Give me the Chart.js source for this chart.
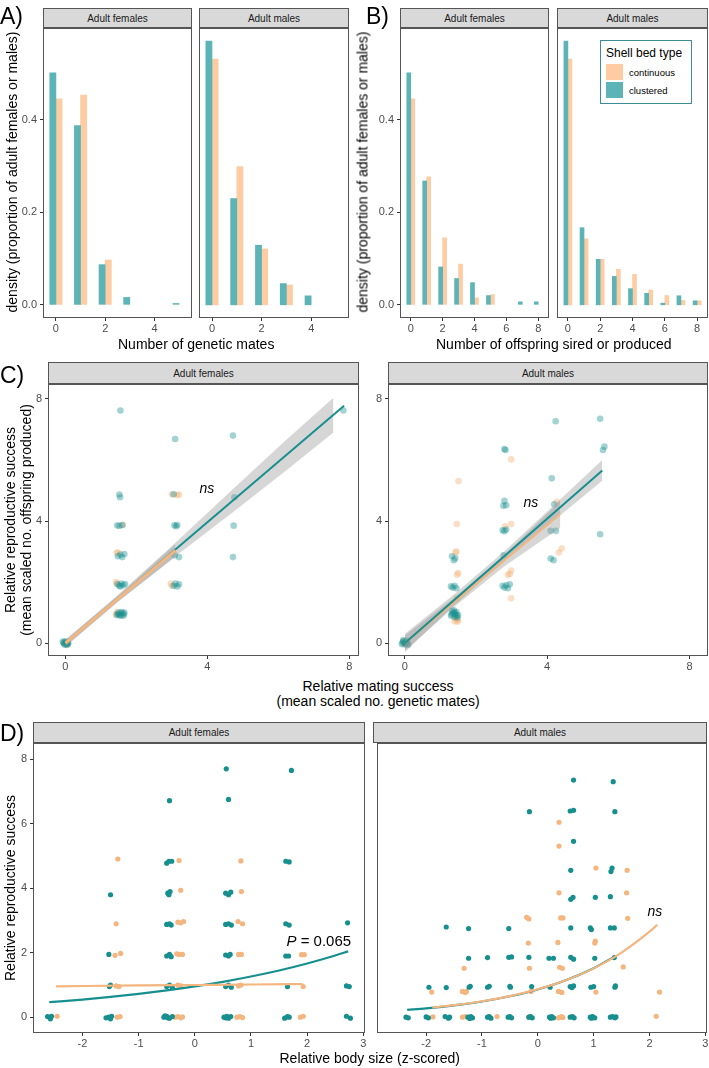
<!DOCTYPE html>
<html><head><meta charset="utf-8">
<script src="https://cdn.jsdelivr.net/npm/chart.js@4/dist/chart.umd.min.js"></script>
<style>
html,body{margin:0;padding:0;background:#fff;overflow:hidden;width:709px;height:1068px;}
#root{position:relative;width:709px;height:1068px;font-family:"Liberation Sans",Arial,sans-serif;overflow:hidden;}
canvas{position:absolute;}
.t{position:absolute;white-space:nowrap;line-height:1;color:#000;}
.strip{position:absolute;box-sizing:border-box;background:#d9d9d9;border:1px solid #555;font-size:10px;color:#1a1a1a;display:flex;align-items:center;justify-content:center;}
</style></head><body><div id="root"></div>
<script>
// ---------------- DATA ----------------
// Panel A: number of genetic mates
const matesCats = [0, 1, 2, 3, 4, 5];
const aFemClustered  = [0.502, 0.388, 0.087, 0.016, 0, 0.003];
const aFemContinuous = [0.446, 0.454, 0.097, 0, 0, 0];
const aMaleClustered  = [0.5705, 0.230, 0.129, 0.046, 0.0195, 0];
const aMaleContinuous = [0.532, 0.299, 0.121, 0.043, 0, 0];
const abYTicks = [0, 0.2, 0.4];
const abYTickLabels = ['0.0', '0.2', '0.4'];
const aXTicks = [0, 2, 4];

// Panel B: number of offspring
const offspringCats = [0, 1, 2, 3, 4, 5, 6, 7, 8];
const bFemClustered  = [0.502, 0.268, 0.082, 0.057, 0.048, 0.020, 0, 0.0065, 0.0065];
const bFemContinuous = [0.446, 0.277, 0.145, 0.088, 0.015, 0.022, 0, 0, 0];
const bMaleClustered  = [0.5705, 0.167, 0.0985, 0.0615, 0.035, 0.025, 0.0036, 0.0196, 0.0087];
const bMaleContinuous = [0.532, 0.143, 0.0985, 0.077, 0.066, 0.032, 0.020, 0.0094, 0.0087];
const bXTicks = [0, 2, 4, 6, 8];

// Panel C: relative mating success vs relative reproductive success (jittered points)
const cTicks = [0, 4, 8];
const cFemClustered = [[-0.05,0.02],[0.03,-0.03],[0.06,0.04],[-0.02,-0.05],[0.08,0.0],[-0.07,0.05],[0.0,0.06],[0.04,-0.06],[-0.04,0.0],[0.07,-0.02],
 [1.45,0.92],[1.5,1.0],[1.55,0.9],[1.6,0.98],[1.65,0.94],[1.48,0.96],[1.58,1.02],[1.62,0.9],[1.52,0.93],[1.66,1.0],
 [1.47,1.93],[1.52,1.88],[1.58,1.95],[1.63,1.9],[1.55,1.86],[1.68,1.94],
 [1.48,2.85],[1.55,2.9],[1.6,2.82],[1.66,2.92],
 [1.46,3.86],[1.52,3.84],[1.6,3.87],
 [1.52,4.87],[1.54,4.78],[1.55,7.62],
 [3.05,1.88],[3.1,1.95],[3.15,1.86],[3.2,1.93],
 [3.08,2.88],[3.2,2.82],
 [3.07,3.86],[3.12,3.83],[3.15,3.87],
 [3.05,4.88],[3.09,6.69],
 [4.72,2.82],[4.74,3.85],[4.76,4.78],[4.72,6.8],
 [7.83,7.62]];
const cFemContinuous = [[0.02,0.03],[-0.03,-0.02],[0.05,-0.04],
 [1.42,0.95],[1.45,1.02],[1.5,0.93],
 [1.45,1.95],[1.43,2.0],[1.45,2.95],[1.48,2.98],[1.62,3.87],
 [2.97,1.95],[3.0,1.88],[3.0,4.88],[3.15,4.85],[3.2,4.87]];
const cMaleClustered = [[-0.06,0.02],[0.0,-0.04],[0.05,0.05],[0.08,-0.02],[-0.03,0.06],[0.03,0.0],[-0.08,-0.03],[0.06,0.08],[0.1,-0.05],[-0.04,0.1],
 [1.3,0.9],[1.35,0.98],[1.4,0.86],[1.45,1.02],[1.5,0.92],[1.33,1.05],[1.42,0.95],[1.48,0.84],[1.38,1.08],[1.46,0.9],[1.32,0.95],[1.4,1.0],
 [1.3,1.86],[1.35,1.82],[1.4,1.88],[1.45,1.8],
 [1.33,2.85],[1.38,2.72],[1.42,2.78],
 [2.75,1.88],[2.8,1.82],[2.85,1.9],[2.9,1.8],[2.95,1.93],
 [2.78,2.88],
 [2.75,3.7],[2.8,3.67],[2.85,3.72],
 [2.8,4.66],[2.77,4.5],[2.85,4.52],
 [2.8,6.36],[2.83,6.33],
 [4.1,2.77],[4.18,2.72],[4.1,3.68],[4.25,3.68],[4.2,4.55],[4.13,5.40],[4.24,7.27],
 [5.49,3.57],[5.57,6.33],[5.61,6.44],[5.49,7.35]];
const cMaleContinuous = [[0.02,-0.02],[-0.04,0.03],[0.06,0.01],
 [1.4,0.72],[1.45,0.78],[1.5,0.75],[1.42,0.82],[1.48,0.7],
 [1.46,1.47],[1.47,2.24],[1.5,2.3],[1.43,2.97],[1.45,3.0],[1.46,3.90],[1.51,5.31],
 [2.99,1.47],[2.9,2.24],[2.95,2.27],[2.99,2.38],
 [2.82,3.83],[2.99,3.9],[2.99,6.02],
 [4.33,2.97],[4.41,3.1],[4.27,4.63]];
// fitted lines and confidence ribbons
const cFemClusteredLine = [[0,0],[7.85,7.78]];
const cFemContinuousLine = [[0,0],[3.1,3.04]];
const cFemClusteredBand = {x:[0,1.5,3.1,4.7,6.2,7.55], hi:[0.1,1.6,3.29,5.03,6.64,8.04], lo:[-0.1,1.38,2.85,4.27,5.64,6.9]};
const cFemContinuousBand = {x:[0,1.5,3.1], hi:[0.12,1.57,3.25], lo:[-0.12,1.37,2.83]};
const cMaleClusteredLine = [[0,0],[5.55,5.66]];
const cMaleContinuousLine = [[0,0],[4.37,4.23]];
const cMaleClusteredBand = {x:[0,1.4,2.8,4.2,5.55], hi:[0.3,1.61,3.01,4.53,6.0], lo:[-0.3,1.25,2.71,4.03,5.32]};
const cMaleContinuousBand = {x:[0,1.4,2.8,4.37], hi:[0.25,1.5,2.9,4.66], lo:[-0.25,1.2,2.52,3.78]};

// Panel D: relative body size vs relative reproductive success
const dXTicks = [-2, -1, 0, 1, 2, 3];
const dYTicks = [0, 2, 4, 6, 8];
const dFemClustered = [[-2.62,0.02],[-2.57,-0.05],[-2.55,0.03],
 [-1.58,-0.02],[-1.53,0.0],[-1.48,0.03],[-1.5,-0.05],[-1.52,0.95],[-1.5,1.0],[-1.53,1.95],[-1.5,3.8],
 [-0.55,0],[-0.5,0.03],[-0.45,-0.03],[-0.4,0.02],[-0.48,-0.02],[-0.53,0.04],
 [-0.5,0.95],[-0.45,1.0],[-0.4,0.93],[-0.5,1.9],[-0.45,1.95],[-0.42,1.88],
 [-0.5,2.88],[-0.45,2.9],[-0.42,2.86],[-0.48,3.85],[-0.44,3.9],[-0.46,3.8],
 [-0.5,4.78],[-0.46,4.84],[-0.41,4.84],[-0.45,6.72],
 [0.52,0],[0.57,0.03],[0.6,-0.03],[0.64,0.02],[0.55,-0.02],
 [0.55,0.95],[0.6,1.0],[0.65,0.93],[0.55,1.93],[0.6,1.9],[0.63,1.95],
 [0.55,2.88],[0.6,2.9],[0.65,2.86],[0.55,3.85],[0.6,3.8],[0.64,3.88],
 [0.6,6.76],[0.56,7.71],
 [1.6,-0.03],[1.65,0.02],[1.68,0],[1.65,0.95],[1.62,1.9],[1.67,1.9],
 [1.62,2.9],[1.68,2.86],[1.62,4.84],[1.68,4.82],[1.72,7.66],
 [2.7,0.03],[2.77,-0.03],[2.7,0.97],[2.75,0.95],[2.72,2.93]];
const dFemContinuous = [[-2.45,0.03],
 [-1.38,0],[-1.33,0.02],[-1.4,0.97],[-1.35,0.95],[-1.42,1.92],[-1.32,1.98],[-1.4,2.9],[-1.37,4.91],
 [-0.35,0],[-0.3,0.02],[-0.25,-0.02],[-0.22,0.01],[-0.3,1.0],[-0.25,0.97],
 [-0.32,1.97],[-0.28,1.95],[-0.22,1.95],[-0.3,2.95],[-0.25,2.93],[-0.2,2.97],
 [-0.25,3.94],[-0.28,4.86],
 [0.75,0],[0.8,0.02],[0.85,-0.01],[0.78,0.97],[0.82,1.0],[0.78,1.95],[0.83,1.95],
 [0.77,2.97],[0.85,2.9],[0.83,3.9],[0.82,4.85],
 [1.88,0],[1.93,0.03],[1.93,0.95],[1.9,1.94],[1.95,1.94]];
const dMaleClustered = [[-2.36,0],[-2.32,-0.02],[-2.0,0.01],[-1.96,-0.02],[-1.66,0.02],[-1.6,-0.03],[-1.58,0],
 [-1.25,0.0],[-1.2,0.02],[-1.17,-0.02],[-1.22,-0.04],[-0.9,0],[-0.87,0.02],[-0.84,-0.03],
 [-0.53,0],[-0.5,0.02],[-0.47,-0.02],[-0.16,0],[-0.13,0.02],[-0.1,-0.02],
 [0.21,0],[0.25,0.02],[0.28,-0.02],[0.23,-0.03],[0.58,0],[0.62,0.02],[0.65,-0.02],
 [0.94,0],[0.98,0.02],[1.02,-0.02],[0.96,-0.03],[1.3,0],[1.34,0.02],[1.38,-0.02],[1.4,0.01],
 [-1.95,0.93],[-1.64,0.92],[-1.23,0.93],[-1.21,0.96],[-0.9,0.93],[-0.87,0.96],[-0.49,0.93],[-0.5,0.96],
 [-0.11,0.95],[0.22,0.93],[0.58,0.95],[0.61,0.92],[0.64,0.97],[0.95,0.93],[1.0,0.95],[1.38,0.93],[1.39,0.97],
 [-1.24,1.83],[-0.9,1.85],[-0.52,1.86],[-0.47,1.87],[-0.16,1.86],[0.2,1.83],[0.28,1.83],
 [0.59,1.86],[0.64,1.8],[1.02,1.83],[1.37,1.85],
 [-1.64,2.8],[-1.24,2.75],[-0.52,2.75],[0.59,2.77],[0.94,2.77],[0.96,2.72],[1.3,2.77],[1.37,2.77],
 [0.59,3.66],[0.63,3.72],[1.03,3.72],[1.3,3.74],
 [0.59,4.56],[1.31,4.52],[1.33,4.63],[0.64,5.46],
 [-0.15,6.38],[0.58,6.4],[0.64,6.42],[1.38,6.38],[0.64,7.36],[1.35,7.31]];
const dMaleContinuous = [[-1.88,0.01],[-1.35,0],[-1.3,0.02],[-0.73,0.02],[-0.16,0.0],[0.4,0],[0.37,-0.02],[0.43,0.02],[0.45,-0.01],[2.12,0.03],
 [-1.9,0.78],[-1.35,0.8],[-1.3,0.77],[-1.28,0.8],[-0.12,0.8],[0.37,0.8],[0.43,0.77],[1.04,0.78],[2.18,0.78],
 [-1.32,1.52],[-0.15,1.52],[0.39,1.55],[0.44,1.52],[1.53,1.56],
 [-0.17,2.3],[0.36,2.32],[1.02,2.3],[1.03,2.36],
 [-0.2,3.1],[-0.16,3.05],[0.41,3.08],[0.45,3.08],[1.61,3.07],
 [0.38,3.86],[1.59,3.86],[1.04,4.63],[1.6,4.56],[0.38,5.31],[0.38,6.05]];
// fitted curves
const dFemClusteredCurve = [[-2.59,0.466],[-2,0.548],[-1.5,0.63],[-1,0.724],[-0.5,0.832],[0,0.956],[0.5,1.098],[1,1.262],[1.5,1.45],[2,1.667],[2.5,1.915],[2.73,2.042]];
const dFemContinuousCurve = [[-2.47,0.96],[-1,0.985],[0,1.0],[1,1.015],[1.92,1.03]];
const dMaleClusteredCurve = [[-2.34,0.228],[-2,0.277],[-1.5,0.368],[-1,0.488],[-0.5,0.649],[0,0.862],[0.5,1.145],[1,1.521],[1.38,1.888]];
const dMaleContinuousCurve = [[-1.89,0.301],[-1.5,0.374],[-1,0.495],[-0.5,0.655],[0,0.866],[0.5,1.146],[1,1.516],[1.5,2.006],[2,2.654],[2.14,2.871]];

// ---------------- STYLE ----------------
const FONT = 'Liberation Sans';
const TEAL_BAR = '#5db4b7', PEACH_BAR = '#fdcca3';
const TEAL = '#178f8e', PEACH = '#f4b57e';
const TEAL_A = 'rgba(23,143,142,0.4)', PEACH_A = 'rgba(244,181,126,0.45)';
const RIBBON = 'rgba(153,153,153,0.4)';

const root = document.getElementById('root');

function addText(txt, cx, cy, o = {}) {
  const d = document.createElement('div');
  d.className = 't';
  d.style.fontSize = (o.size || 14) + 'px';
  if (o.italic) d.style.fontStyle = 'italic';
  if (o.html) d.innerHTML = txt; else d.textContent = txt;
  root.appendChild(d);
  const w = d.offsetWidth, h = d.offsetHeight;
  d.style.left = (o.left !== undefined ? o.left : cx - w / 2) + 'px';
  d.style.top = (cy - h / 2) + 'px';
  if (o.rot) d.style.transform = 'rotate(-90deg)';
  return d;
}
function addStrip(txt, l, t, r, b) {
  const d = document.createElement('div');
  d.className = 'strip';
  d.style.left = l + 'px'; d.style.top = t + 'px';
  d.style.width = (r - l) + 'px'; d.style.height = (b - t) + 'px';
  d.textContent = txt;
  root.appendChild(d);
}

const framePlugin = {
  id: 'frame',
  afterDraw(chart) {
    const { ctx, chartArea: a } = chart;
    ctx.save();
    ctx.strokeStyle = '#555'; ctx.lineWidth = 1;
    ctx.strokeRect(Math.round(a.left) + 0.5, Math.round(a.top) + 0.5, Math.round(a.width) - 1, Math.round(a.height) - 1);
    ctx.restore();
  }
};

function makePanel(rect, o) {
  const { l, t, r, b } = rect;
  const padL = o.showY ? o.padL : 0;
  const padT = 12, padR = 8, padB = 20;
  const cv = document.createElement('canvas');
  const W = (r - l) + padL + padR, H = (b - t) + padT + padB;
  cv.width = W; cv.height = H;
  cv.style.left = (l - padL) + 'px'; cv.style.top = (t - padT) + 'px';
  cv.style.width = W + 'px'; cv.style.height = H + 'px';
  root.appendChild(cv);
  const tickFont = { family: FONT, size: 11 };
  const gridOpt = { display: true, drawOnChartArea: false, drawTicks: true, tickLength: 3, color: '#333', lineWidth: 1, offset: false };
  new Chart(cv, {
    type: o.type,
    data: { datasets: o.datasets },
    options: {
      responsive: false, animation: false, devicePixelRatio: 1,
      layout: { padding: { left: 0, top: padT, right: padR, bottom: 0 } },
      plugins: { legend: { display: false }, tooltip: { enabled: false } },
      scales: {
        x: {
          type: 'linear', min: o.xr[0], max: o.xr[1], offset: false,
          afterFit: s => { s.height = padB; },
          afterBuildTicks: s => { s.ticks = o.xt.map(v => ({ value: v })); },
          ticks: { font: tickFont, color: '#4d4d4d', padding: 1, maxRotation: 0, autoSkip: false,
                   callback: (v, i) => (o.xl ? o.xl[i] : String(o.xt[i])) },
          grid: gridOpt, border: { display: false }
        },
        y: {
          type: 'linear', min: o.yr[0], max: o.yr[1], display: o.showY, beginAtZero: false,
          afterFit: s => { s.width = padL; },
          afterBuildTicks: s => { s.ticks = o.yt.map(v => ({ value: v })); },
          ticks: { font: tickFont, color: '#4d4d4d', padding: 3, autoSkip: false,
                   callback: (v, i) => (o.yl ? o.yl[i] : String(o.yt[i])) },
          grid: gridOpt, border: { display: false }
        }
      }
    },
    plugins: [framePlugin]
  });
}

function barSets(cats, clustered, continuous, thick) {
  const mk = (vals, shift) => cats.map((c, i) => ({ x: c + shift, y: vals[i] })).filter(p => p.y > 0);
  return [
    { data: mk(clustered, -0.125), backgroundColor: TEAL_BAR, barThickness: thick, grouped: false, borderWidth: 0 },
    { data: mk(continuous, 0.125), backgroundColor: PEACH_BAR, barThickness: thick, grouped: false, borderWidth: 0 }
  ];
}
const pts = arr => arr.map(p => ({ x: p[0], y: p[1] }));
const lineSet = (arr, color, w, smooth) => ({ type: 'line', data: pts(arr), borderColor: color, borderWidth: w, pointRadius: 0, fill: false, cubicInterpolationMode: smooth ? 'monotone' : 'default', tension: 0 });
const bandSets = band => [
  { type: 'line', data: band.x.map((x, i) => ({ x, y: band.hi[i] })), borderWidth: 0, borderColor: 'rgba(0,0,0,0)', pointRadius: 0, fill: false },
  { type: 'line', data: band.x.map((x, i) => ({ x, y: band.lo[i] })), borderWidth: 0, borderColor: 'rgba(0,0,0,0)', pointRadius: 0, fill: '-1', backgroundColor: RIBBON }
];
const pointSet = (arr, color, r) => ({ type: 'scatter', data: pts(arr), backgroundColor: color, borderWidth: 0, pointRadius: r, showLine: false });

// ---------------- PANEL A ----------------
const abY = [-0.0285, 0.599];
const aX = [-0.525, 5.525];
makePanel({ l: 43, t: 28, r: 192, b: 318 }, { type: 'bar', showY: true, padL: 40, xr: aX, yr: abY, xt: aXTicks, yt: abYTicks, yl: abYTickLabels,
  datasets: barSets(matesCats, aFemClustered, aFemContinuous, 6.16) });
makePanel({ l: 199, t: 28, r: 349, b: 318 }, { type: 'bar', showY: false, xr: aX, yr: abY, xt: aXTicks, yt: abYTicks,
  datasets: barSets(matesCats, aMaleClustered, aMaleContinuous, 6.16) });
addStrip('Adult females', 43, 8, 192, 28);
addStrip('Adult males', 199, 8, 349, 28);

// ---------------- PANEL B ----------------
const bX = [-0.675, 8.675];
makePanel({ l: 400, t: 28, r: 549, b: 318 }, { type: 'bar', showY: true, padL: 40, xr: bX, yr: abY, xt: bXTicks, yt: abYTicks, yl: abYTickLabels,
  datasets: barSets(offspringCats, bFemClustered, bFemContinuous, 4) });
makePanel({ l: 557, t: 28, r: 708, b: 318 }, { type: 'bar', showY: false, xr: bX, yr: abY, xt: bXTicks, yt: abYTicks,
  datasets: barSets(offspringCats, bMaleClustered, bMaleContinuous, 4) });
addStrip('Adult females', 400, 8, 549, 28);
addStrip('Adult males', 557, 8, 708, 28);

// ---------------- PANEL C ----------------
const cY = [-0.42, 8.49];
makePanel({ l: 48, t: 384, r: 359, b: 656 }, { type: 'scatter', showY: true, padL: 28, xr: [-0.49, 8.27], yr: cY, xt: cTicks, yt: cTicks,
  datasets: [lineSet(cFemContinuousLine, PEACH, 3), lineSet(cFemClusteredLine, TEAL, 2),
    ...bandSets(cFemClusteredBand), ...bandSets(cFemContinuousBand),
    pointSet(cFemClustered, TEAL_A, 3.3), pointSet(cFemContinuous, PEACH_A, 3.3)] });
makePanel({ l: 388, t: 384, r: 708, b: 656 }, { type: 'scatter', showY: true, padL: 22, xr: [-0.47, 8.52], yr: cY, xt: cTicks, yt: cTicks,
  datasets: [lineSet(cMaleClusteredLine, TEAL, 2), lineSet(cMaleContinuousLine, PEACH, 2),
    ...bandSets(cMaleClusteredBand), ...bandSets(cMaleContinuousBand),
    pointSet(cMaleClustered, TEAL_A, 3.3), pointSet(cMaleContinuous, PEACH_A, 3.3)] });
addStrip('Adult females', 48, 362, 359, 384);
addStrip('Adult males', 388, 362, 708, 384);

// ---------------- PANEL D ----------------
const dX = [-2.88, 3.03], dY = [-0.49, 8.51];
makePanel({ l: 33, t: 743, r: 365, b: 1033 }, { type: 'scatter', showY: true, padL: 22, xr: dX, yr: dY, xt: dXTicks, yt: dYTicks,
  datasets: [lineSet(dFemContinuousCurve, PEACH, 2.2, true), lineSet(dFemClusteredCurve, TEAL, 2.2, true),
    pointSet(dFemClustered, TEAL, 2.6), pointSet(dFemContinuous, PEACH, 2.6)] });
makePanel({ l: 373, t: 743, r: 707, b: 1033 }, { type: 'scatter', showY: false, xr: dX, yr: dY, xt: dXTicks, yt: dYTicks,
  datasets: [lineSet(dMaleContinuousCurve, PEACH, 2.2, true), lineSet(dMaleClusteredCurve, TEAL, 2.2, true),
    pointSet(dMaleClustered, TEAL, 2.6), pointSet(dMaleContinuous, PEACH, 2.6)] });
addStrip('Adult females', 33, 722, 365, 743);
addStrip('Adult males', 373, 722, 707, 743);

// ---------------- TEXT ----------------
addText('A)', 0, 16, { size: 23, left: 0 });
addText('B)', 0, 16, { size: 23, left: 366 });
addText('C)', 0, 375, { size: 23, left: 0 });
addText('D)', 0, 733, { size: 23, left: 0 });

addText('density (proportion of adult females or males)', 12, 172, { rot: true });
addText('density (proportion of adult females or males)', 362, 172, { rot: true });
addText('Number of genetic mates', 196, 344);
addText('Number of offspring sired or produced', 554, 344);

addText('Relative reproductive success', 10, 520, { rot: true });
addText('(mean scaled no. offspring produced)', 26, 520, { rot: true });
addText('Relative mating success', 378, 686);
addText('(mean scaled no. genetic mates)', 378, 701);

addText('Relative reproductive success', 10, 888, { rot: true });
addText('Relative body size (z-scored)', 370, 1058);

addText('ns', 207, 488, { italic: true });
addText('ns', 531, 502, { italic: true });
addText('<i>P</i> = 0.065', 319, 940, { html: true, size: 15 });
addText('ns', 655, 911, { italic: true });

// legend
const lg = document.createElement('div');
lg.style.cssText = 'position:absolute;left:600px;top:40px;width:92px;height:64px;box-sizing:border-box;border:1px solid #3b8c98;background:#fff;';
root.appendChild(lg);
addText('Shell bed type', 0, 53, { size: 12, left: 606 });
const key = (color, top) => { const k = document.createElement('div'); k.style.cssText = `position:absolute;left:606px;top:${top}px;width:17px;height:16px;background:${color};`; root.appendChild(k); };
key(PEACH_BAR, 64); key(TEAL_BAR, 82);
addText('continuous', 0, 72.5, { size: 9.5, left: 629 });
addText('clustered', 0, 90.5, { size: 9.5, left: 629 });
</script></body></html>
